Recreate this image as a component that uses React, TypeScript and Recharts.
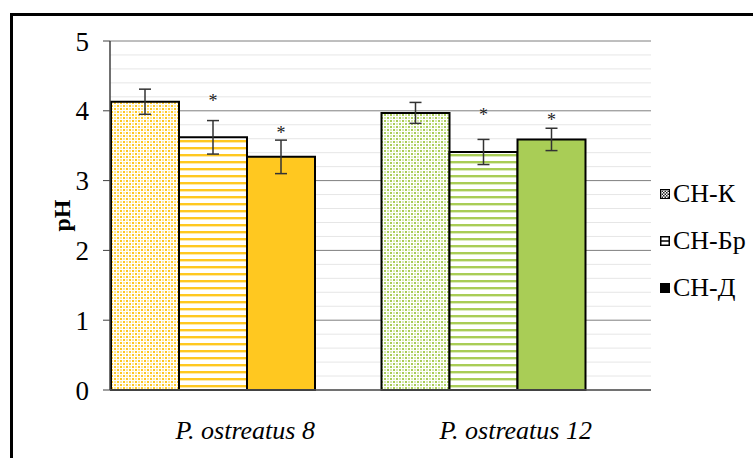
import { Bar, BarChart, CartesianGrid, Cell, ErrorBar, LabelList, XAxis, YAxis } from 'recharts';

const categories = ['P. ostreatus 8', 'P. ostreatus 12'];
const seriesNames = ['СН-К', 'СН-Бр', 'СН-Д'];

const ckValues = [4.13, 3.97];
const ckErrors = [0.18, 0.15];
const brValues = [3.62, 3.41];
const brErrors = [0.24, 0.18];
const dValues = [3.34, 3.59];
const dErrors = [0.24, 0.16];

// height of the significance asterisk, in pH units
const brMarks = [4.19, 3.98];
const dMarks = [3.72, 3.91];

const yDomain = [0, 5];
const majorTicks = [0, 1, 2, 3, 4, 5];
const minorTicks = [0.2, 0.4, 0.6, 0.8, 1.2, 1.4, 1.6, 1.8, 2.2, 2.4, 2.6, 2.8, 3.2, 3.4, 3.6, 3.8, 4.2, 4.4, 4.6, 4.8];

const groupColors = ['#FFC820', '#A9CD56'];
const FONT = "'Liberation Serif', 'DejaVu Serif', serif";

const rows = categories.map((name, i) => ({
  name,
  ck: ckValues[i],
  ckErr: ckErrors[i],
  br: brValues[i],
  brErr: brErrors[i],
  d: dValues[i],
  dErr: dErrors[i],
}));

function Patterns() {
  return (
    <svg width={0} height={0} style={{ position: 'absolute' }}>
      <defs>
        {groupColors.map((c, i) => (
          <pattern key={'chk' + i} id={`chk-${i}`} width={6} height={6} patternUnits="userSpaceOnUse">
            <rect width={6} height={6} fill="#fff" />
            <rect x={0} y={0} width={2} height={2} fill={c} />
            <rect x={3} y={3} width={2} height={2} fill={c} />
            <rect x={3} y={0} width={2} height={2} fill={c} opacity={0.45} />
            <rect x={0} y={3} width={2} height={2} fill={c} opacity={0.45} />
          </pattern>
        ))}
        {groupColors.map((c, i) => (
          <pattern key={'str' + i} id={`str-${i}`} width={7} height={7} patternUnits="userSpaceOnUse">
            <rect width={7} height={7} fill="#fff" />
            <rect x={0} y={0} width={7} height={2} fill={c} />
            <rect x={0} y={2} width={7} height={1} fill={c} opacity={0.4} />
          </pattern>
        ))}
        <pattern id="chk-legend" width={3} height={3} patternUnits="userSpaceOnUse">
          <rect width={3} height={3} fill="#fff" />
          <rect width={1.5} height={1.5} fill="#222" />
          <rect x={1.5} y={1.5} width={1.5} height={1.5} fill="#222" />
        </pattern>
      </defs>
    </svg>
  );
}

function CategoryTick(props: any) {
  const { x, y, payload } = props;
  return (
    <text x={x + 33} y={y} dy="0.71em" textAnchor="middle" style={{ fontFamily: FONT }} fontStyle="italic" fontSize={26} fill="#000">
      {payload.value}
    </text>
  );
}

function makeStar(marks: number[]) {
  return (p: any) => {
    const vb = p.viewBox ?? {};
    const x = p.x ?? vb.x;
    const y = p.y ?? vb.y;
    const width = p.width ?? vb.width;
    const height = p.height ?? vb.height;
    const value = Number(p.value);
    if (!height || !value) return null;
    const perUnit = height / value;
    const cy = y - (marks[p.index] - value) * perUnit;
    return (
      <text x={x + width / 2} y={cy + 9} textAnchor="middle" style={{ fontFamily: FONT }} fontSize={18} fill="#222">
        *
      </text>
    );
  };
}

function PhLabel(p: any) {
  const vb = p.viewBox ?? { x: 0, y: 41, width: 110, height: 349 };
  const cx = vb.x + 62;
  const cy = vb.y + vb.height / 2;
  return (
    <text x={cx} y={cy} transform={`rotate(-90, ${cx}, ${cy})`} textAnchor="middle" dominantBaseline="central" style={{ fontFamily: FONT }} fontWeight="bold" fontSize={24} fill="#000">
      pH
    </text>
  );
}

function LegendIcon({ kind }: { kind: number }) {
  return (
    <svg width={10} height={10} style={{ marginRight: 3 }}>
      {kind === 0 && <rect x={0.5} y={0.5} width={9} height={9} fill="url(#chk-legend)" stroke="#000" strokeWidth={1} />}
      {kind === 1 && (
        <g>
          <rect x={0.75} y={0.75} width={8.5} height={8.5} fill="#fff" stroke="#000" strokeWidth={1.5} />
          <line x1={1} y1={5} x2={9} y2={5} stroke="#000" strokeWidth={1.5} />
        </g>
      )}
      {kind === 2 && <rect x={0} y={0} width={10} height={10} fill="#000" />}
    </svg>
  );
}

const minorLines = (props: any) => {
  const s = props?.yAxis?.scale;
  if (typeof s === 'function') return minorTicks.map((t) => s(t));
  const { top, height } = props.offset;
  return minorTicks.map((t) => top + height * (1 - (t - yDomain[0]) / (yDomain[1] - yDomain[0])));
};

export default function App() {
  return (
    <div style={{ position: 'absolute', left: 0, top: 0, width: 753, height: 458, background: '#fff', overflow: 'hidden', fontFamily: FONT }}>
      <Patterns />
      <div
        style={{
          position: 'absolute',
          left: 10,
          top: 13,
          right: -10,
          bottom: -10,
          borderTop: '3px solid #000',
          borderLeft: '3px solid #000',
        }}
      />
      <div style={{ position: 'absolute', left: 0, top: 0 }}>
        <BarChart
          width={753}
          height={458}
          data={rows}
          margin={{ top: 41, right: 102, bottom: 0, left: 0 }}
          barCategoryGap={34}
          barGap={0}
        >
          <CartesianGrid vertical={false} stroke="#e6e6e6" strokeWidth={1} horizontalCoordinatesGenerator={minorLines} />
          <CartesianGrid vertical={false} stroke="#7f7f7f" strokeWidth={1} />
          <YAxis
            width={110}
            domain={yDomain}
            ticks={majorTicks}
            interval={0}
            tickSize={7}
            tickMargin={14}
            axisLine={{ stroke: '#404040', strokeWidth: 1.5 }}
            tickLine={{ stroke: '#404040' }}
            tick={{ fontSize: 27, fill: '#000', style: { fontFamily: FONT } }}
            label={<PhLabel />}
          />
          <XAxis
            dataKey="name"
            height={68}
            padding={{ left: -33, right: 33 }}
            tickLine={false}
            tickSize={0}
            tickMargin={31}
            axisLine={{ stroke: '#595959', strokeWidth: 1.5 }}
            tick={<CategoryTick />}
            interval={0}
          />
          <Bar dataKey="ck" name={seriesNames[0]} isAnimationActive={false} stroke="#000" strokeWidth={2}>
            {rows.map((r, i) => (
              <Cell key={r.name} fill={`url(#chk-${i})`} />
            ))}
            <ErrorBar dataKey="ckErr" width={6} stroke="#333" strokeWidth={1.5} direction="y" />
          </Bar>
          <Bar dataKey="br" name={seriesNames[1]} isAnimationActive={false} stroke="#000" strokeWidth={2}>
            {rows.map((r, i) => (
              <Cell key={r.name} fill={`url(#str-${i})`} />
            ))}
            <ErrorBar dataKey="brErr" width={6} stroke="#333" strokeWidth={1.5} direction="y" />
            <LabelList dataKey="br" content={makeStar(brMarks)} />
          </Bar>
          <Bar dataKey="d" name={seriesNames[2]} isAnimationActive={false} stroke="#000" strokeWidth={2}>
            {rows.map((r, i) => (
              <Cell key={r.name} fill={groupColors[i]} />
            ))}
            <ErrorBar dataKey="dErr" width={6} stroke="#333" strokeWidth={1.5} direction="y" />
            <LabelList dataKey="d" content={makeStar(dMarks)} />
          </Bar>
        </BarChart>
      </div>
      {seriesNames.map((name, i) => (
        <div
          key={name}
          style={{
            position: 'absolute',
            left: 660,
            top: 178 + i * 47,
            height: 32,
            display: 'flex',
            alignItems: 'center',
            fontFamily: FONT,
            fontSize: 26,
            color: '#000',
            whiteSpace: 'nowrap',
          }}
        >
          <LegendIcon kind={i} />
          {name}
        </div>
      ))}
    </div>
  );
}
